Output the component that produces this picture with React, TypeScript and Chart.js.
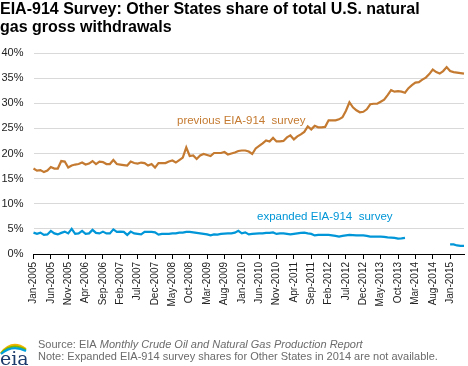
import React, { useEffect, useRef } from "react";
import { Chart, registerables } from "chart.js";

Chart.register(...registerables);

const MONTH_NAMES = ["Jan", "Feb", "Mar", "Apr", "May", "Jun", "Jul", "Aug", "Sep", "Oct", "Nov", "Dec"];
const START_YEAR = 2005;
const MONTH_COUNT = 125; // Jan-2005 .. May-2015
const categories: string[] = [];
for (let i = 0; i < MONTH_COUNT; i++) {
  categories.push(MONTH_NAMES[i % 12] + "-" + (START_YEAR + Math.floor(i / 12)));
}
const LABEL_EVERY = 5;

const previousSurvey: number[] = [
  17.0, 16.6, 16.7, 16.3, 16.6, 17.3, 17.0, 17.0, 18.5, 18.4, 17.2, 17.6,
  17.8, 17.9, 18.2, 17.8, 18.0, 18.5, 17.9, 18.4, 18.3, 17.9, 17.9, 18.7,
  17.9, 17.8, 17.7, 17.6, 18.4, 18.1, 18.0, 18.2, 18.1, 17.6, 17.9, 17.2,
  18.1, 18.1, 18.1, 18.4, 18.6, 18.2, 18.7, 19.2, 21.2, 19.5, 19.6, 18.9,
  19.6, 19.9, 19.7, 19.5, 20.1, 20.1, 20.1, 20.3, 19.8, 20.0, 20.2, 20.5,
  20.6, 20.6, 20.4, 19.9, 21.0, 21.5, 22.0, 22.6, 22.4, 23.1, 22.4, 22.4,
  22.5, 23.2, 23.6, 22.8, 23.4, 23.8, 24.3, 25.4, 24.8, 25.5, 25.2, 25.2,
  25.3, 26.6, 26.6, 26.6, 26.8, 27.2, 28.5, 30.2, 29.2, 28.6, 28.2, 28.3,
  28.8, 29.8, 29.9, 29.9, 30.3, 30.7, 31.6, 32.6, 32.3, 32.4, 32.3, 32.1,
  33.0, 33.6, 34.1, 34.2, 34.7, 35.1, 35.8, 36.7, 36.2, 35.9, 36.4, 37.2,
  36.4, 36.2, 36.1, 36.0, 35.9,
];

const expandedSurvey: (number | null)[] = [
  4.25, 4.0, 4.25, 3.8, 3.9, 4.6, 4.1, 3.9, 4.2, 4.45, 4.1, 5.0,
  4.0, 4.1, 4.6, 4.0, 4.1, 4.8, 4.2, 4.1, 4.45, 4.1, 4.1, 4.9,
  4.4, 4.45, 4.4, 3.8, 4.45, 4.1, 4.0, 3.9, 4.4, 4.4, 4.4, 4.3,
  3.85, 4.0, 4.0, 4.0, 4.1, 4.1, 4.25, 4.25, 4.4, 4.4, 4.3, 4.2,
  4.1, 4.0, 3.9, 3.7, 3.9, 3.85, 4.0, 4.05, 4.1, 4.1, 4.25, 4.6,
  4.1, 4.3, 3.9, 4.0, 4.05, 4.1, 4.1, 4.2, 4.2, 4.3, 4.0, 4.1,
  4.1, 4.0, 3.9, 4.0, 4.1, 4.2, 4.25, 4.1, 4.0, 3.7, 3.8, 3.8,
  3.8, 3.8, 3.7, 3.6, 3.45, 3.6, 3.7, 3.8, 3.75, 3.7, 3.7, 3.7,
  3.6, 3.45, 3.45, 3.45, 3.45, 3.4, 3.3, 3.25, 3.2, 3.05, 3.1, 3.2,
  null, null, null, null, null, null, null, null, null, null, null, null,
  1.9, 1.9, 1.7, 1.6, 1.6,
];

const Y_MIN = 0;
const Y_MAX = 40;
const Y_STEP = 5;

const TITLE_LINES = [
  "EIA-914 Survey: Other States share of total U.S. natural",
  "gas gross withdrawals",
];
const PREVIOUS_LABEL = "previous EIA-914  survey";
const EXPANDED_LABEL = "expanded EIA-914  survey";
const SOURCE_PREFIX = "Source: EIA ";
const SOURCE_ITALIC = "Monthly Crude Oil and Natural Gas Production Report";
const NOTE_TEXT = "Note: Expanded EIA-914 survey shares for Other States in 2014 are not available.";
const LOGO_TEXT = "eia";

const ORANGE = "#C47A30";
const BLUE = "#0096D7";
const FONT = '"Liberation Sans", Arial, sans-serif';

const decorPlugin = {
  id: "decor",
  afterDraw(chart: any) {
    const ctx = chart.ctx as CanvasRenderingContext2D;
    ctx.save();
    ctx.textAlign = "left";
    ctx.textBaseline = "alphabetic";
    // Title
    ctx.fillStyle = "#000";
    ctx.font = "bold 16px " + FONT;
    ctx.fillText(TITLE_LINES[0], 0, 14);
    ctx.fillText(TITLE_LINES[1], 0, 32);

    // Series annotations
    ctx.textBaseline = "middle";
    ctx.font = "11.5px " + FONT;
    ctx.fillStyle = ORANGE;
    ctx.fillText(PREVIOUS_LABEL, 177, 121);
    ctx.fillStyle = BLUE;
    ctx.fillText(EXPANDED_LABEL, 257, 217);

    // Footer
    ctx.fillStyle = "#6b6b6b";
    ctx.font = "11px " + FONT;
    ctx.fillText(SOURCE_PREFIX, 38, 344.5);
    const w = ctx.measureText(SOURCE_PREFIX).width;
    ctx.font = "italic 11px " + FONT;
    ctx.fillText(SOURCE_ITALIC, 38 + w, 344.5);
    ctx.font = "11px " + FONT;
    ctx.fillText(NOTE_TEXT, 38, 356.7);

    // Logo arcs
    const arcs: [string, number][] = [["#F5B400", 0], ["#7AB800", 2.5], ["#00A0DC", 5]];
    ctx.lineWidth = 2;
    arcs.forEach(([c, off]) => {
      ctx.strokeStyle = c;
      ctx.beginPath();
      ctx.moveTo(1, 353 + off * 0.2);
      ctx.quadraticCurveTo(12, 339 + off, 26, 349 + off * 0.4);
      ctx.stroke();
    });
    ctx.fillStyle = "#1D3B6C";
    ctx.font = '19px "DejaVu Serif", serif';
    ctx.textBaseline = "alphabetic";
    ctx.fillText(LOGO_TEXT, 0, 365);
    ctx.restore();
  },
};

export default function App() {
  const ref = useRef<HTMLCanvasElement | null>(null);
  useEffect(() => {
    if (!ref.current) return;
    const chart = new Chart(ref.current, {
      type: "line",
      data: {
        labels: categories,
        datasets: [
          {
            label: "previous EIA-914 survey",
            data: previousSurvey,
            borderColor: ORANGE,
            borderWidth: 2.2,
            pointRadius: 0,
            tension: 0,
            fill: false,
          },
          {
            label: "expanded EIA-914 survey",
            data: expandedSurvey,
            borderColor: BLUE,
            borderWidth: 2.2,
            pointRadius: 0,
            tension: 0,
            spanGaps: false,
            fill: false,
          },
        ],
      },
      options: {
        animation: false,
        responsive: false,
        events: [],
        layout: { padding: { top: 53, right: 4, left: 0, bottom: 0 } },
        plugins: { legend: { display: false }, title: { display: false }, tooltip: { enabled: false } },
        scales: {
          x: {
            type: "category",
            offset: false,
            grid: { drawOnChartArea: false, drawTicks: true, tickLength: 5, color: "#000", lineWidth: 1 },
            border: { display: true, color: "#000", width: 1 },
            ticks: {
              autoSkip: false,
              minRotation: 90,
              maxRotation: 90,
              padding: 3,
              color: "#222",
              font: { family: FONT, size: 10 },
              callback: (_v: any, i: number) => (i % LABEL_EVERY === 0 ? categories[i] : null),
            },
            afterFit: (s: any) => {
              s.height = 112;
            },
          },
          y: {
            min: Y_MIN,
            max: Y_MAX,
            grid: { color: "#D9D9D9", lineWidth: 1, drawTicks: false },
            border: { display: false },
            ticks: {
              stepSize: Y_STEP,
              padding: 10,
              color: "#222",
              font: { family: FONT, size: 11 },
              callback: (v: any) => v + "%",
            },
            afterFit: (s: any) => {
              s.width = 33.5;
            },
          },
        },
      },
      plugins: [decorPlugin],
    });
    return () => chart.destroy();
  }, []);
  return (
    <div style={{ position: "fixed", left: 0, top: 0, width: 468, height: 366, background: "#fff" }}>
      <canvas ref={ref} width={468} height={366} style={{ width: 468, height: 366, display: "block" }} />
    </div>
  );
}
